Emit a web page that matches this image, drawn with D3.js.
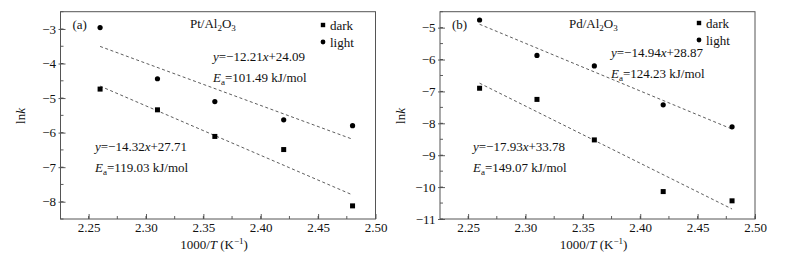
<!DOCTYPE html>
<html>
<head>
<meta charset="utf-8">
<script src="https://cdn.jsdelivr.net/npm/d3@7"></script>
<style>
  body { margin: 0; background: #fff; }
  svg, svg text { font-family: "Liberation Serif", "Times New Roman", serif; }
  svg { display: block; }
</style>
</head>
<body>
<svg id="chart" width="785" height="258"></svg>
<script>
// 1000/T values shared by both catalysts
var invT = [2.26, 2.31, 2.36, 2.42, 2.48];
var xTicks = [2.25, 2.30, 2.35, 2.40, 2.45, 2.50];

// Pt/Al2O3
var ptDark = [-4.74, -5.34, -6.11, -6.49, -8.12];
var ptLight = [-2.96, -4.44, -5.10, -5.63, -5.80];
var ptDarkFit = [-14.32, 27.71];
var ptLightFit = [-12.21, 24.09];
var ptEa = [119.03, 101.49]; // dark, light
var ptYTicks = [-8, -7, -6, -5, -4, -3];

// Pd/Al2O3
var pdDark = [-6.90, -7.25, -8.52, -10.14, -10.43];
var pdLight = [-4.76, -5.87, -6.20, -7.42, -8.11];
var pdDarkFit = [-17.93, 33.78];
var pdLightFit = [-14.94, 28.87];
var pdEa = [149.07, 124.23];
var pdYTicks = [-11, -10, -9, -8, -7, -6, -5];

var svg = d3.select("#chart");
var fs = 13;

function minus(v) {
  return v < 0 ? "\u2212" + Math.abs(v).toFixed(2) : v.toFixed(2);
}

// segments: [text, style] where style is "i" (italic), "sub", "sup" or ""
function rich(g, x, y, segs, anchor) {
  var t = g.append("text")
    .attr("x", x)
    .attr("y", y)
    .attr("font-size", fs)
    .attr("fill", "#111")
    .attr("text-anchor", anchor || "start");
  var shift = 0;
  segs.forEach(function (s) {
    var ts = t.append("tspan").text(s[0]);
    var want = 0;
    if (s[1] === "i") ts.attr("font-style", "italic");
    if (s[1] === "sub") { want = 3; ts.attr("font-size", 9); }
    if (s[1] === "sup") { want = -5; ts.attr("font-size", 9); }
    if (want !== shift) { ts.attr("dy", want - shift); shift = want; }
  });
  return t;
}

function eqSegs(fit) {
  return [["y", "i"], ["=" + minus(fit[0]), ""], ["x", "i"], ["+" + fit[1].toFixed(2), ""]];
}
function eaSegs(ea) {
  return [["E", "i"], ["a", "sub"], ["=" + ea.toFixed(2) + " kJ/mol", ""]];
}

function drawPanel(p) {
  var left = p.left, right = p.left + 315, top = 11.7, bottom = 219;
  var x = d3.scaleLinear().domain([2.2255, 2.5]).range([left, right]);
  var y = d3.scaleLinear().domain(p.yDomain).range([bottom, top]);
  var g = svg.append("g");

  // minor ticks
  var xMinor = d3.range(2.25, 2.5001, 0.025);
  g.selectAll(".xm").data(xMinor).enter().append("line")
    .attr("x1", function (d) { return x(d); })
    .attr("x2", function (d) { return x(d); })
    .attr("y1", bottom).attr("y2", bottom - 3)
    .attr("stroke", "#333").attr("stroke-width", 0.8);
  var yMinor = d3.range(p.yDomain[0], p.yDomain[1] + 0.001, 0.5);
  g.selectAll(".ym").data(yMinor).enter().append("line")
    .attr("x1", left).attr("x2", left + 3)
    .attr("y1", function (d) { return y(d); })
    .attr("y2", function (d) { return y(d); })
    .attr("stroke", "#333").attr("stroke-width", 0.8);

  // axes with inward major ticks
  var xAxis = d3.axisBottom(x).tickValues(xTicks).tickSize(-5).tickPadding(4)
    .tickFormat(d3.format(".2f"));
  var yAxis = d3.axisLeft(y).tickValues(p.yTicks).tickSize(-5).tickPadding(4.5)
    .tickFormat(function (d) { return d < 0 ? "\u2212" + Math.abs(d) : d; });

  var gx = g.append("g").attr("transform", "translate(0," + bottom + ")").call(xAxis);
  var gy = g.append("g").attr("transform", "translate(" + left + ",0)").call(yAxis);
  [gx, gy].forEach(function (a) {
    a.attr("font-family", null).attr("font-size", fs);
    a.select(".domain").remove();
    a.selectAll("line").attr("stroke", "#333").attr("stroke-width", 0.8);
    a.selectAll("text").attr("fill", "#111");
  });
  gy.selectAll(".tick").append("line").attr("x1", -2).attr("x2", 0)
    .attr("stroke", "#333").attr("stroke-width", 0.8);

  // frame
  g.append("rect")
    .attr("x", left).attr("y", top)
    .attr("width", right - left).attr("height", bottom - top)
    .attr("fill", "none").attr("stroke", "#555").attr("stroke-width", 1);

  // fit lines
  var xr = [invT[0], invT[invT.length - 1]];
  [p.darkFit, p.lightFit].forEach(function (f) {
    var line = d3.line()
      .x(function (d) { return x(d); })
      .y(function (d) { return y(f[0] * d + f[1]); });
    g.append("path").datum(xr).attr("d", line)
      .attr("fill", "none").attr("stroke", "#333")
      .attr("stroke-width", 0.8).attr("stroke-dasharray", "3,2.5");
  });

  // points
  var pts = invT.map(function (t, i) { return { x: t, dark: p.dark[i], light: p.light[i] }; });
  g.selectAll(".sq").data(pts).enter().append("rect")
    .attr("x", function (d) { return x(d.x) - 2.5; })
    .attr("y", function (d) { return y(d.dark) - 2.5; })
    .attr("width", 5).attr("height", 5).attr("fill", "#000");
  g.selectAll(".ci").data(pts).enter().append("circle")
    .attr("cx", function (d) { return x(d.x); })
    .attr("cy", function (d) { return y(d.light); })
    .attr("r", 2.6).attr("fill", "#000");

  // legend
  g.append("rect").attr("x", p.legX - 2.2).attr("y", p.legY - 2.2)
    .attr("width", 4.4).attr("height", 4.4).attr("fill", "#000");
  g.append("circle").attr("cx", p.legX).attr("cy", p.legY + 17).attr("r", 2.4).attr("fill", "#000");
  rich(g, p.legX + 7, p.legY + 4.5, [["dark", ""]]);
  rich(g, p.legX + 7, p.legY + 22, [["light", ""]]);

  // labels
  rich(g, left + 12, 28.5, [[p.tag, ""]]);
  rich(g, p.nameX, 28, [[p.metal + "/Al", ""], ["2", "sub"], ["O", ""], ["3", "sub"]]);
  rich(g, p.lightEqX, p.lightEqY, eqSegs(p.lightFit));
  rich(g, p.lightEqX, p.lightEqY + 21, eaSegs(p.ea[1]));
  rich(g, p.darkEqX, 150.5, eqSegs(p.darkFit));
  rich(g, p.darkEqX, 171.5, eaSegs(p.ea[0]));

  rich(g, (left + right) / 2 - 4, 249, [["1000/", ""], ["T", "i"], [" (K", ""], ["\u22121", "sup"], [")", ""]], "middle");
  var yl = g.append("g").attr("transform", "translate(" + (left - 35.5) + ",116) rotate(-90)");
  rich(yl, 0, 0, [["ln", ""], ["k", "i"]], "middle");
}

drawPanel({
  left: 60.5, tag: "(a)", metal: "Pt", nameX: 190,
  yDomain: [-8.5, -2.5], yTicks: ptYTicks,
  dark: ptDark, light: ptLight, darkFit: ptDarkFit, lightFit: ptLightFit, ea: ptEa,
  legX: 323, legY: 25, lightEqX: 213, lightEqY: 61, darkEqX: 95
});
drawPanel({
  left: 440, tag: "(b)", metal: "Pd", nameX: 569,
  yDomain: [-11, -4.5], yTicks: pdYTicks,
  dark: pdDark, light: pdLight, darkFit: pdDarkFit, lightFit: pdLightFit, ea: pdEa,
  legX: 699, legY: 23, lightEqX: 611, lightEqY: 57, darkEqX: 473
});
</script>
</body>
</html>
